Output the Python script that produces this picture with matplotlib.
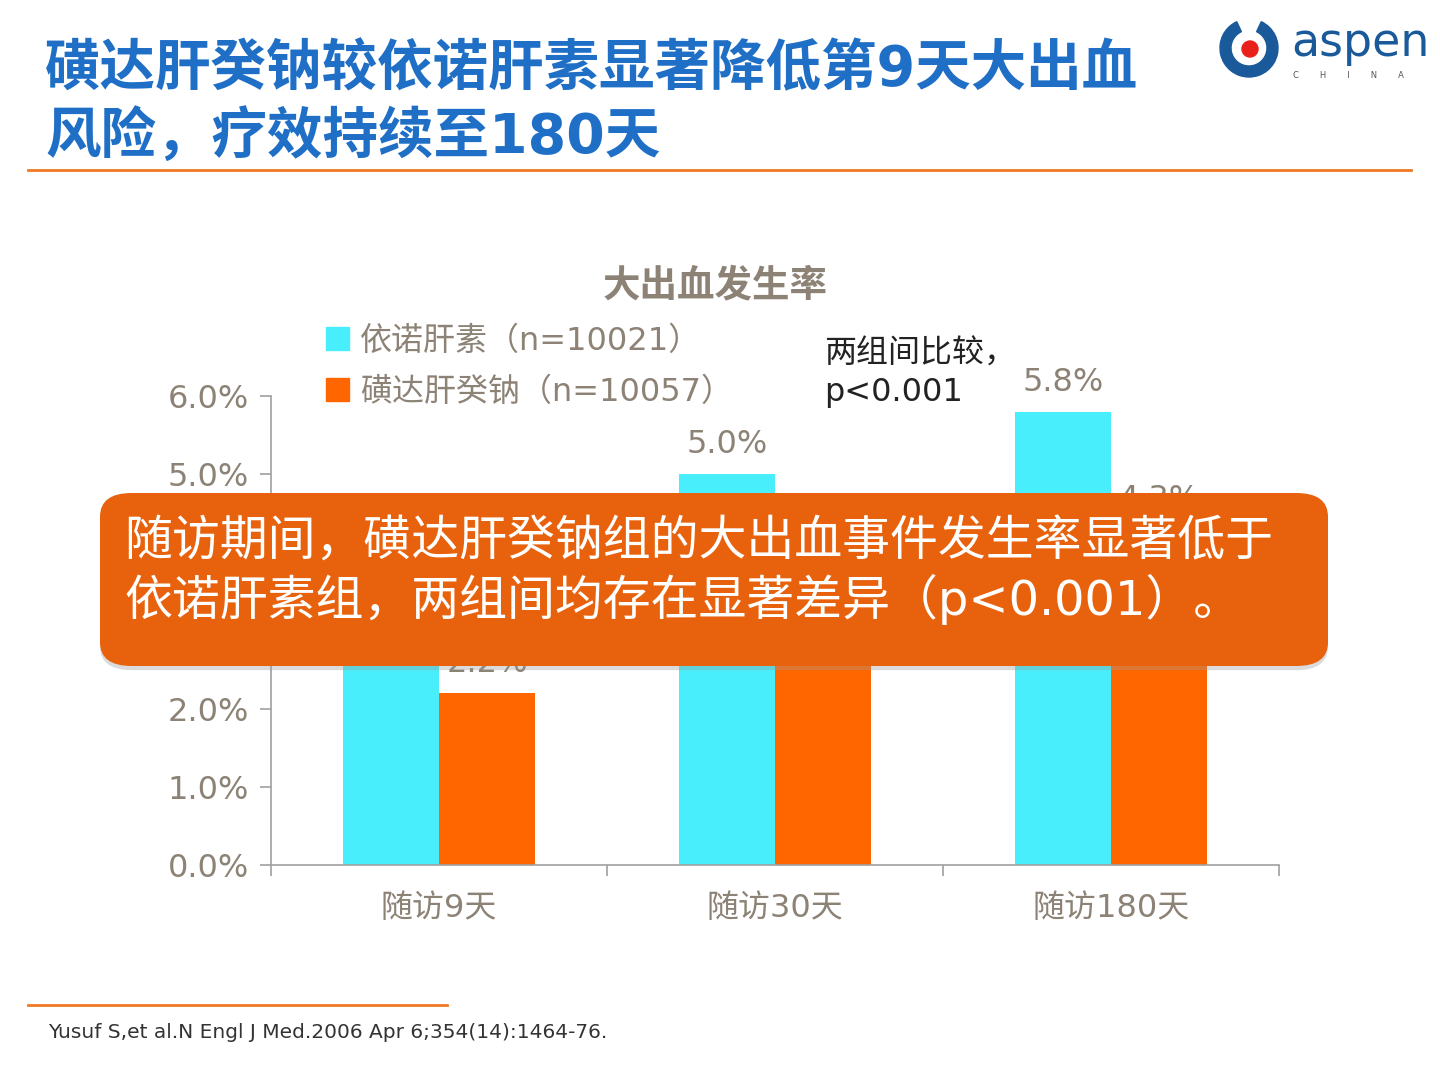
import matplotlib
matplotlib.use("Agg")
import matplotlib.pyplot as plt
from matplotlib.patches import FancyBboxPatch, Rectangle, Wedge, Circle
import matplotlib.patheffects as pe

plt.rcParams['font.family'] = ['DejaVu Sans', 'Noto Sans CJK SC']

categories = ["随访9天", "随访30天", "随访180天"]
enox = [4.1, 5.0, 5.8]
fonda = [2.2, 3.1, 4.3]
series_names = ["依诺肝素（n=10021）", "磺达肝癸钠（n=10057）"]
yticks = [0, 1, 2, 3, 4, 5, 6]

CYAN = "#48EEFB"
ORANGE = "#FF6600"
GRAY = "#8C8275"
BLUE = "#1F6FC6"
LINE_OR = "#EE7A22"

W, H = 1440, 1080
fig = plt.figure(figsize=(14.4, 10.8), dpi=100)

def fx(x): return x / W
def fy(y): return 1 - y / H

# Title
fig.text(fx(45), fy(70), "磺达肝癸钠较依诺肝素显著降低第9天大出血", fontsize=40, fontweight='bold',
         color=BLUE, ha='left', va='center')
fig.text(fx(45), fy(137), "风险，疗效持续至180天", fontsize=40, fontweight='bold',
         color=BLUE, ha='left', va='center')
fig.add_artist(plt.Line2D([fx(28), fx(1411)], [fy(170), fy(170)], color=LINE_OR, lw=2))

# Logo (equal-aspect small axes)
lax = fig.add_axes([fx(1216), fy(80), 66 / W, 70 / H])
lax.set_xlim(-33, 33)
lax.set_ylim(-35, 35)
lax.set_aspect('equal')
lax.axis('off')
lax.add_patch(Wedge((0, -3), 29, 115, 65, width=11, color="#1A5A9A"))
lax.add_patch(Circle((1, -4), 8, color="#E8211B"))
fig.text(fx(1291), fy(44), "aspen", fontsize=33, color="#1A5A9A", ha='left', va='center',
         family='DejaVu Sans')
fig.text(fx(1293), fy(75), "C        H        I        N        A", fontsize=6, color="#555555",
         ha='left', va='center')

# Axes
ax = fig.add_axes([fx(271), fy(865), (1279 - 271) / W, (865 - 396) / H])
x = list(range(len(categories)))
bw = 0.287
ax.bar([i - bw / 2 for i in x], enox, width=bw, color=CYAN, zorder=2)
ax.bar([i + bw / 2 for i in x], fonda, width=bw, color=ORANGE, zorder=2)
for i in x:
    ax.annotate(f"{enox[i]:.1f}%", (i - bw / 2, enox[i]), xytext=(0, 10), textcoords='offset points',
                ha='center', va='bottom', fontsize=23, color=GRAY)
    ax.annotate(f"{fonda[i]:.1f}%", (i + bw / 2, fonda[i]), xytext=(0, 10), textcoords='offset points',
                ha='center', va='bottom', fontsize=23, color=GRAY)

ax.set_xlim(-0.5, 2.5)
ax.set_ylim(0, 6)
ax.set_yticks(yticks)
ax.set_yticklabels([f"{v:.1f}%" for v in yticks], fontsize=23, color=GRAY)
ax.set_xticks(x)
ax.set_xticklabels(categories, fontsize=23, color=GRAY)
ax.set_xticks([-0.5, 0.5, 1.5, 2.5], minor=True)
ax.tick_params(axis='x', which='major', length=0, pad=20)
ax.tick_params(axis='x', which='minor', length=8, color="#A0A0A0", width=1.2)
ax.tick_params(axis='y', length=8, color="#A0A0A0", width=1.2, pad=8)
for s in ['top', 'right']:
    ax.spines[s].set_visible(False)
for s in ['left', 'bottom']:
    ax.spines[s].set_color("#A0A0A0")
    ax.spines[s].set_linewidth(1.2)

# Chart title
fig.text(fx(715), fy(286), "大出血发生率", fontsize=27, fontweight='bold', color=GRAY,
         ha='center', va='center')

# Legend
h1 = Rectangle((0, 0), 1, 1, color=CYAN)
h2 = Rectangle((0, 0), 1, 1, color=ORANGE)
leg = fig.legend([h1, h2], series_names, loc='upper left',
                 bbox_to_anchor=(fx(326), fy(326)), frameon=False, fontsize=23,
                 handlelength=0.72, handleheight=0.72, handletextpad=0.35, labelspacing=0.62,
                 borderaxespad=0, borderpad=0)
for t in leg.get_texts():
    t.set_color(GRAY)

# Annotation
fig.text(fx(824), fy(354), "两组间比较，", fontsize=23, color="#222222", ha='left', va='center')
fig.text(fx(824), fy(392), "p<0.001", fontsize=23, color="#222222", ha='left', va='center')

# Overlay box
box = FancyBboxPatch((fx(100), fy(666)), fx(1328 - 100), (666 - 493) / H,
                     boxstyle="round,pad=0,rounding_size=0.022",
                     transform=fig.transFigure, facecolor="#E8610C", edgecolor="none",
                     zorder=10,
                     path_effects=[pe.SimplePatchShadow(offset=(0, -3), shadow_rgbFace='#999999', alpha=0.35),
                                   pe.Normal()])
fig.add_artist(box)
fig.text(fx(124), fy(542), "随访期间，磺达肝癸钠组的大出血事件发生率显著低于", fontsize=34.5,
         color='white', ha='left', va='center', zorder=11)
fig.text(fx(124), fy(599), "依诺肝素组，两组间均存在显著差异（p<0.001）。", fontsize=34.5,
         color='white', ha='left', va='center', zorder=11)

# Footnote
fig.add_artist(plt.Line2D([fx(28), fx(447)], [fy(1005), fy(1005)], color=LINE_OR, lw=2))
fig.text(fx(48), fy(1032), "Yusuf S,et al.N Engl J Med.2006 Apr 6;354(14):1464-76.", fontsize=14.5,
         color="#333333", ha='left', va='center')

fig.savefig("out.png", dpi=100)
